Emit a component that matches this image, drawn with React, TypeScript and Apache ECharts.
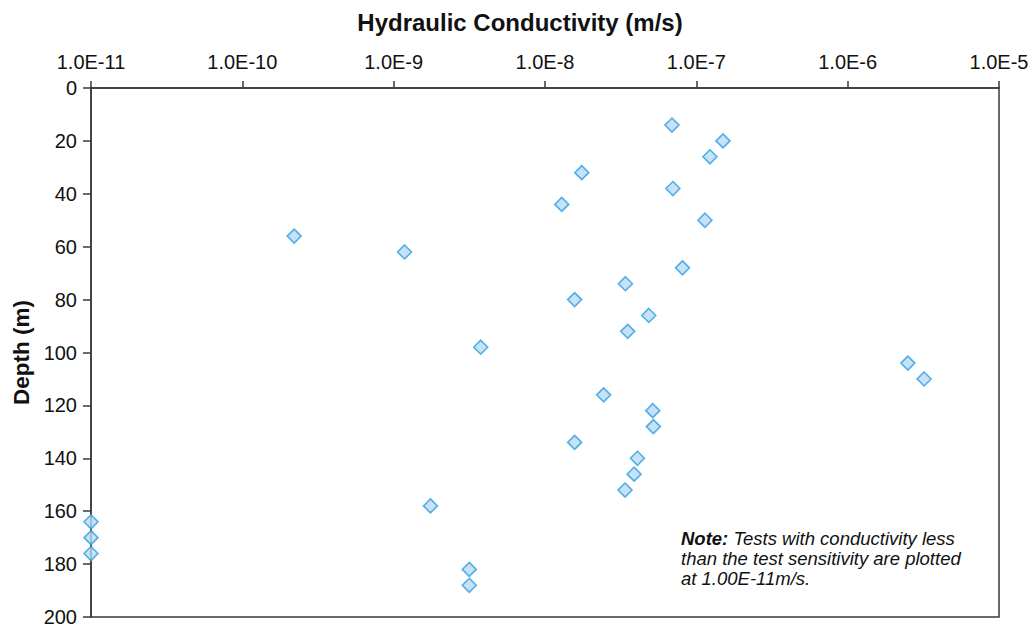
import React, { useEffect, useRef } from "react";
import * as echarts from "echarts";

const depths = [14, 20, 26, 32, 38, 44, 50, 56, 62, 68, 74, 80, 86, 92, 98, 104, 110, 116, 122, 128, 134, 140, 146, 152, 158, 164, 170, 176, 182, 188];
const conductivity = [6.9e-8, 1.5e-7, 1.23e-7, 1.75e-8, 7.0e-8, 1.29e-8, 1.14e-7, 2.2e-10, 1.18e-9, 8.1e-8, 3.4e-8, 1.57e-8, 4.85e-8, 3.52e-8, 3.76e-9, 2.5e-6, 3.2e-6, 2.44e-8, 5.15e-8, 5.2e-8, 1.57e-8, 4.08e-8, 3.88e-8, 3.38e-8, 1.75e-9, 1e-11, 1e-11, 1e-11, 3.16e-9, 3.16e-9];
const xTickLabels: Record<string, string> = {
  "-11": "1.0E-11", "-10": "1.0E-10", "-9": "1.0E-9", "-8": "1.0E-8", "-7": "1.0E-7", "-6": "1.0E-6", "-5": "1.0E-5",
};
const xTitle = "Hydraulic Conductivity (m/s)";
const yTitle = "Depth (m)";
const noteLines = ["Tests with conductivity less", "than the test sensitivity are plotted", "at 1.00E-11m/s."];

const FONT = "'Liberation Sans', Arial, Helvetica, sans-serif";

export default function App() {
  const ref = useRef<HTMLDivElement>(null);
  useEffect(() => {
    if (!ref.current) return;
    const chart = echarts.init(ref.current, null, { renderer: "svg" });
    const data = depths.map((d, i) => [conductivity[i], d]);
    chart.setOption({
      animation: false,
      backgroundColor: "#ffffff",
      textStyle: { fontFamily: FONT },
      grid: {
        left: 91, top: 88, right: 36, bottom: 14,
        containLabel: false,
        outerBoundsMode: "none",
        show: true, borderColor: "#3a3a3a", borderWidth: 1.5, backgroundColor: "transparent",
      },
      xAxis: {
        type: "log", logBase: 10, min: 1e-11, max: 1e-5, position: "top",
        axisLine: { show: true, lineStyle: { color: "#3a3a3a", width: 1.5 } },
        axisTick: { show: true, inside: false, length: 7, lineStyle: { color: "#3a3a3a", width: 1.5 } },
        minorTick: { show: false },
        splitLine: { show: false },
        axisLabel: {
          fontSize: 20, color: "#111", margin: 16, fontFamily: FONT,
          formatter: (v: number) => xTickLabels[String(Math.round(Math.log10(v)))] ?? "",
        },
      },
      yAxis: {
        type: "value", inverse: true, min: 0, max: 200, interval: 20,
        name: yTitle, nameLocation: "middle", nameGap: 56,
        nameTextStyle: { fontSize: 22.5, fontWeight: "bold", color: "#111", fontFamily: FONT },
        axisLine: { show: true, lineStyle: { color: "#3a3a3a", width: 1.5 } },
        axisTick: { show: true, inside: false, length: 8, lineStyle: { color: "#3a3a3a", width: 1.5 } },
        splitLine: { show: false },
        axisLabel: { fontSize: 20, color: "#111", margin: 14, fontFamily: FONT },
      },
      series: [
        {
          type: "scatter",
          data,
          symbol: "diamond",
          symbolSize: 14,
          itemStyle: { color: "#b9d9f2", borderColor: "#2b9fe3", borderWidth: 1.6 },
          clip: false,
        },
      ],
      graphic: [
        {
          type: "text",
          x: 520,
          y: 22,
          style: {
            text: xTitle,
            fontSize: 24,
            fontWeight: "bold",
            fill: "#111",
            fontFamily: FONT,
            textAlign: "center",
            textVerticalAlign: "middle",
          },
        },
        {
          type: "text",
          left: 681,
          top: 529,
          style: {
            text: `{b|Note:}{i| ${noteLines[0]}}\n{i|${noteLines[1]}}\n{i|${noteLines[2]}}`,
            rich: {
              b: { fontSize: 18.5, fontWeight: "bold", fontStyle: "italic", fill: "#111", fontFamily: FONT, lineHeight: 20 },
              i: { fontSize: 18.5, fontStyle: "italic", fill: "#111", fontFamily: FONT, lineHeight: 20 },
            },
          },
        },
      ],
    });
    return () => chart.dispose();
  }, []);
  return <div ref={ref} style={{ position: "fixed", left: 0, top: 0, width: 1035, height: 631 }} />;
}
